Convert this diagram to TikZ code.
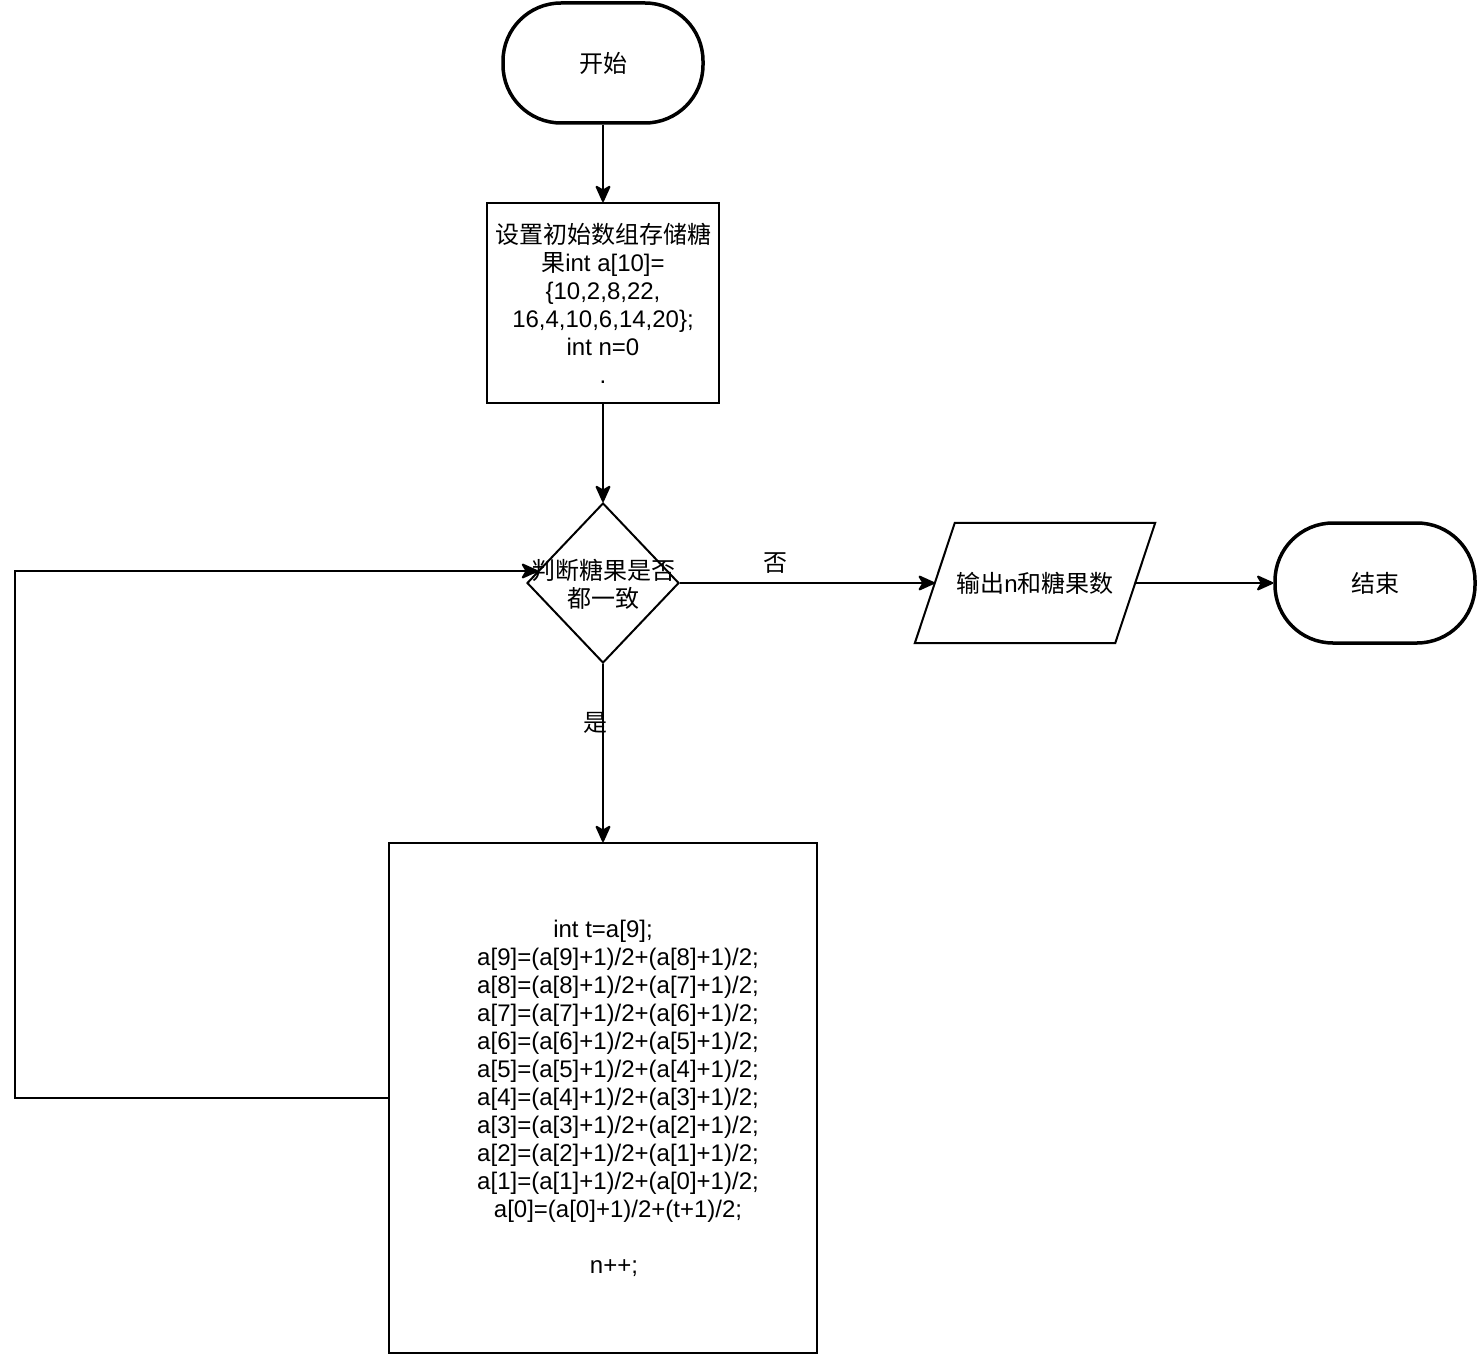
\documentclass[tikz,border=0pt]{standalone}
\usepackage{fontspec}
\setmainfont{Liberation Sans}
\newfontfamily\cjk{Noto Sans CJK SC}
\usetikzlibrary{shapes.geometric,arrows.meta}
\begin{document}
\begin{tikzpicture}[x=1bp,y=-1bp,
  base/.style={font=\fontsize{24bp}{28bp}\selectfont, align=center, inner sep=0pt},
  term/.style={base, draw, line width=3.5bp, rounded corners=58bp, minimum width=200bp, minimum height=120bp},
  proc/.style={base, draw, line width=2bp},
  decision/.style={draw, diamond, line width=2bp, minimum width=152bp, minimum height=160bp, inner sep=0pt},
  arr/.style={line width=2bp, -{Stealth[length=19bp,width=17bp,inset=5bp,round=false]}},
  conn/.style={line width=2bp},
  lbl/.style={font=\fontsize{24bp}{28bp}\selectfont, inner sep=0pt}
]
\useasboundingbox (0,0) rectangle (1478,1354);

\node[term] (start) at (603,63) {\cjk 开始};
\node[proc, minimum width=232bp, minimum height=200bp] (init) at (603,303)
  {{\cjk 设置初始数组存储糖}\\{\cjk 果}int a[10]=\\\{10,2,8,22,\\16,4,10,6,14,20\};\\int n=0\\.};
\node[decision] (dec) at (603,583) {};
\node[base] (dectxt) at (603,584) {{\cjk 判断糖果是否}\\{\cjk 都一致}};
\node[base, minimum width=200bp, minimum height=120bp] (out) at (1035,583) {{\cjk 输出}n{\cjk 和糖果数}};
\draw[conn] ([xshift=20bp]out.north west) -- ([xshift=20bp]out.north east)
  -- ([xshift=-20bp]out.south east) -- ([xshift=-20bp]out.south west) -- cycle;
\node[term] (end) at (1375,583) {\cjk 结束};
\node[proc, minimum width=428bp, minimum height=510bp] (loop) at (603,1098)
  {\rule{0pt}{2bp}int t=a[9];\\
   \hspace*{30bp}a[9]=(a[9]+1)/2+(a[8]+1)/2;\\
   \hspace*{30bp}a[8]=(a[8]+1)/2+(a[7]+1)/2;\\
   \hspace*{30bp}a[7]=(a[7]+1)/2+(a[6]+1)/2;\\
   \hspace*{30bp}a[6]=(a[6]+1)/2+(a[5]+1)/2;\\
   \hspace*{30bp}a[5]=(a[5]+1)/2+(a[4]+1)/2;\\
   \hspace*{30bp}a[4]=(a[4]+1)/2+(a[3]+1)/2;\\
   \hspace*{30bp}a[3]=(a[3]+1)/2+(a[2]+1)/2;\\
   \hspace*{30bp}a[2]=(a[2]+1)/2+(a[1]+1)/2;\\
   \hspace*{30bp}a[1]=(a[1]+1)/2+(a[0]+1)/2;\\
   \hspace*{30bp}a[0]=(a[0]+1)/2+(t+1)/2;\\[28bp]
   \hspace*{22bp}n++;};

\coordinate (c1) at (15,1098);
\coordinate (c2) at (15,571);
\coordinate (c3) at (538,571);

\draw[arr] (start) -- (init);
\draw[arr] (init) -- (dec);
\draw[arr] (dec.east) -- (out.west);
\draw[arr] (out.east) -- (end.west);
\draw[arr] (dec.south) -- (loop.north);
\draw[arr] (loop.west) -- (c1) -- (c2) -- (c3);

\node[lbl] (no) at (775,563) {\cjk 否};
\node[lbl] (yes) at (595,723) {\cjk 是};
\end{tikzpicture}
\end{document}
